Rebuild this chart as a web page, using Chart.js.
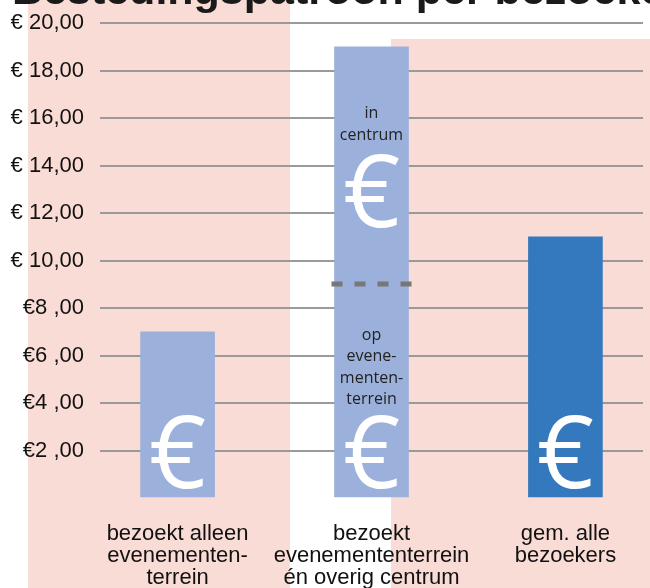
<!DOCTYPE html>
<html>
<head>
<meta charset="utf-8">
<script src="https://cdn.jsdelivr.net/npm/chart.js@4"></script>
<style>
    html, body { margin: 0; padding: 0; background: #fff; overflow: hidden; }
</style>
</head>
<body>
<canvas id="spendChart" width="650" height="588"></canvas>
<script>
// Chart data
const categories = [
    ['bezoekt alleen', 'evenementen-', 'terrein'],
    ['bezoekt', 'evenemententerrein', 'én overig centrum'],
    ['gem. alle', 'bezoekers']
];
const positions = [1, 2, 3];
const spending = [7, 19, 11];
const splitValue = 9; // grens tussen centrum en evenemententerrein
const yTickValues = [0, 2, 4, 6, 8, 10, 12, 14, 16, 18, 20];
const yTickLabels = ['', '€2 ,00', '€4 ,00', '€6 ,00', '€8 ,00', '€ 10,00',
    '€ 12,00', '€ 14,00', '€ 16,00', '€ 18,00', '€ 20,00'];

const LIGHT_BLUE = '#9bb1dc';
const DARK_BLUE = '#3479bd';
const PINK = '#fadcd6';
const LABEL_FONT = '"Liberation Sans", Arial, sans-serif';
const BAR_FONT = '"Open Sans", sans-serif';

const decorations = {
    id: 'decorations',

    // pink panels behind the chart
    beforeDraw(chart) {
        const ctx = chart.ctx;
        ctx.save();
        ctx.fillStyle = PINK;
        ctx.fillRect(28, 0, 262, 588);
        ctx.fillRect(391, 39, 259, 549);
        ctx.restore();
    },

    afterDatasetsDraw(chart) {
        const { ctx, scales: { x, y } } = chart;
        const mid = x.getPixelForValue(positions[1]);
        ctx.save();

        // euro signs
        ctx.fillStyle = '#fff';
        ctx.font = '100px ' + BAR_FONT;
        ctx.textAlign = 'center';
        ctx.textBaseline = 'alphabetic';
        positions.forEach(p => {
            ctx.fillText('€', x.getPixelForValue(p), y.getPixelForValue(0.42));
        });
        ctx.fillText('€', mid, y.getPixelForValue(11.41));

        // dashed split line
        const ys = Math.round(y.getPixelForValue(splitValue));
        ctx.strokeStyle = '#777';
        ctx.lineWidth = 5;
        ctx.setLineDash([11, 12]);
        ctx.beginPath();
        ctx.moveTo(mid - 40, ys);
        ctx.lineTo(mid + 44, ys);
        ctx.stroke();
        ctx.setLineDash([]);

        // text inside middle bar
        ctx.fillStyle = '#222';
        ctx.font = '16px ' + BAR_FONT;
        ctx.textBaseline = 'middle';
        ctx.fillText('in', mid, 113);
        ctx.fillText('centrum', mid, 135);
        ['op', 'evene-', 'menten-', 'terrein'].forEach((t, i) => {
            ctx.fillText(t, mid, 335 + i * 21.5);
        });
        ctx.restore();
    },

    // title, mostly cut off at the top
    afterDraw(chart) {
        const ctx = chart.ctx;
        ctx.save();
        ctx.fillStyle = '#1a1a1a';
        ctx.font = 'bold 43px ' + LABEL_FONT;
        ctx.textAlign = 'left';
        ctx.textBaseline = 'alphabetic';
        ctx.fillText('Bestedingspatroon per bezoeker', 12, 4);
        ctx.restore();
    }
};

new Chart(document.getElementById('spendChart'), {
    type: 'bar',
    data: {
        datasets: [{
            data: positions.map((p, i) => ({ x: p, y: spending[i] })),
            backgroundColor: [LIGHT_BLUE, LIGHT_BLUE, DARK_BLUE],
            borderWidth: 0,
            barThickness: 74
        }]
    },
    options: {
        responsive: false,
        animation: false,
        layout: {
            padding: { top: 23, right: 7, left: 0, bottom: 0 }
        },
        plugins: {
            legend: { display: false },
            tooltip: { enabled: false }
        },
        scales: {
            x: {
                type: 'linear',
                min: 0.6,
                max: 3.4,
                offset: false,
                bounds: 'data',
                grid: { display: false, offset: false },
                border: { display: false },
                afterBuildTicks(scale) {
                    scale.ticks = positions.map(v => ({ value: v }));
                },
                afterFit(scale) {
                    scale.height = 90;
                },
                ticks: {
                    autoSkip: false,
                    maxRotation: 0,
                    padding: 17,
                    color: '#111',
                    font: { family: LABEL_FONT, size: 22, lineHeight: 1.0 },
                    callback: (value) => categories[positions.indexOf(value)]
                }
            },
            y: {
                min: 0,
                max: 20,
                border: { display: false },
                grid: {
                    drawTicks: false,
                    lineWidth: 2,
                    color: (c) => c.tick && c.tick.value === 0 ? 'rgba(0,0,0,0)' : '#9a9a9a'
                },
                afterBuildTicks(scale) {
                    scale.ticks = yTickValues.map(v => ({ value: v }));
                },
                afterFit(scale) {
                    scale.width = 100;
                },
                ticks: {
                    padding: 16,
                    color: '#111',
                    font: { family: LABEL_FONT, size: 22, lineHeight: 0.4 },
                    callback: (value) => yTickLabels[yTickValues.indexOf(value)]
                }
            }
        }
    },
    plugins: [decorations]
});
</script>
</body>
</html>
